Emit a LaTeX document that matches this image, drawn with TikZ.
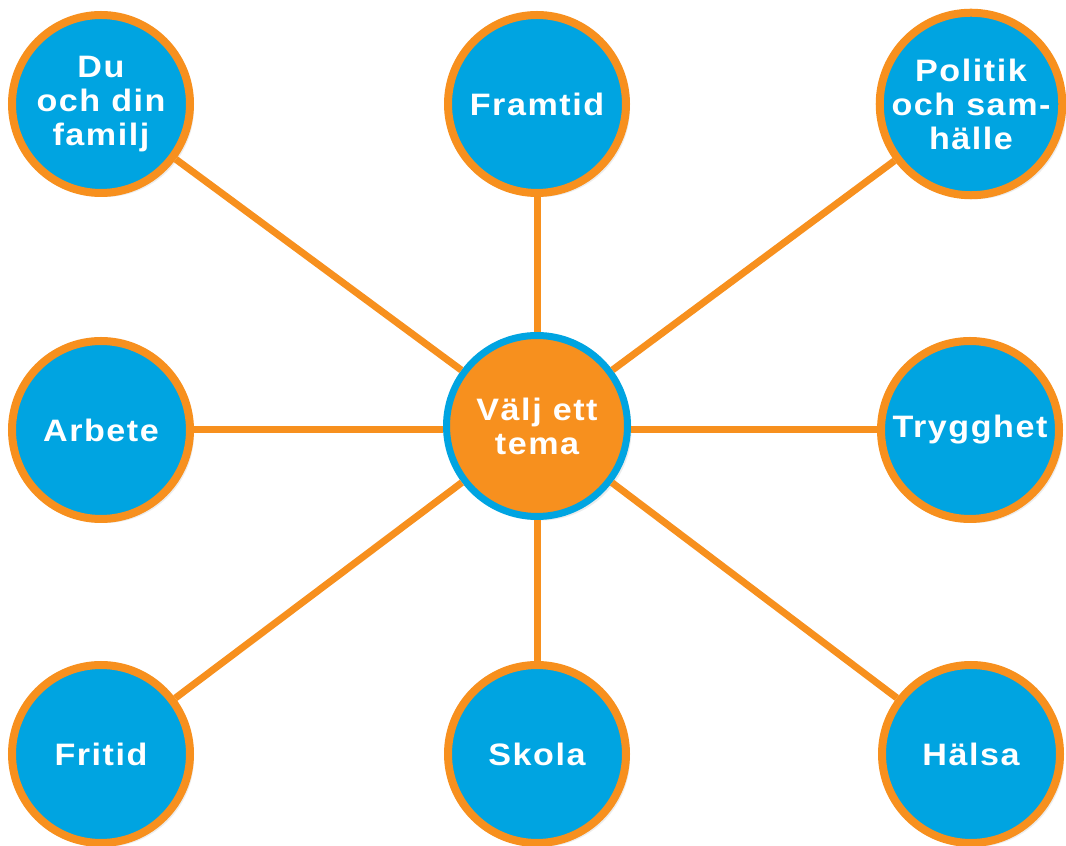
\documentclass[tikz,border=0pt]{standalone}
\usepackage{fontspec}
\setmainfont{Liberation Sans}[LetterSpace=5, FakeStretch=1.1]
\usetikzlibrary{positioning,shadows}

\definecolor{temablue}{RGB}{0,164,225}
\definecolor{temaorange}{RGB}{247,144,30}

\begin{document}
\begin{tikzpicture}[x=1pt, y=1pt, on grid,
    every node/.append style={font=\fontsize{31}{34}\selectfont\bfseries, text=white, align=center},
    amne/.style={circle, fill=temablue, draw=temaorange, line width=8pt,
        minimum size=178pt, inner sep=0pt,
        drop shadow={shadow xshift=4pt, shadow yshift=-4pt, opacity=0.15}},
    mitt/.style={amne, fill=temaorange, draw=temablue, line width=7pt, minimum size=181pt},
    spoke/.style={draw=temaorange, line width=7pt}]
    \useasboundingbox[fill=white] (0,0) rectangle (1066,846);

    % Draw the themes
    \node[mitt]                                (tema)     at (537,420) {Välj ett\\tema};
    \node[amne, above left=322pt and 436pt of tema]  (familj)   {Du\\och din\\familj};
    \node[amne, above=322pt of tema]                 (framtid)  {Framtid};
    \node[amne, above right=322pt and 434pt of tema] (politik)  {Politik\\och sam-\\hälle};
    \node[amne, left=436pt of tema, yshift=-4pt]     (arbete)   {Arbete};
    \node[amne, right=433pt of tema, yshift=-4pt]    (trygghet) {Trygghet};
    \node[amne, below left=328pt and 436pt of tema]  (fritid)   {Fritid};
    \node[amne, below=328pt of tema]                 (skola)    {Skola};
    \node[amne, below right=328pt and 434pt of tema] (halsa)    {Hälsa};

    % Connect the themes to the centre
    \foreach \n in {familj,framtid,politik,fritid,skola,halsa}
        \draw[spoke] (tema) -- (\n);
    \draw[spoke] (arbete.east) -- (arbete.east -| tema.west);
    \draw[spoke] (trygghet.west) -- (trygghet.west -| tema.east);
\end{tikzpicture}
\end{document}
